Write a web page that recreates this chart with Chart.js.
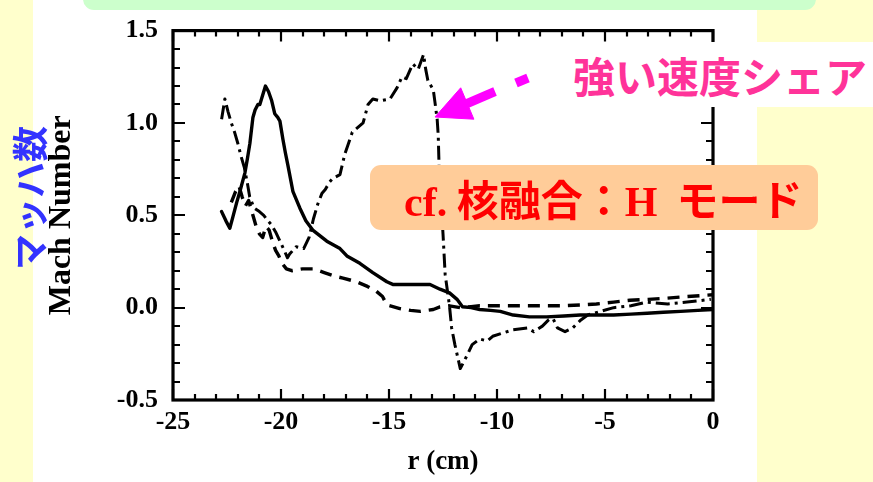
<!DOCTYPE html>
<html>
<head>
<meta charset="utf-8">
<script src="https://cdn.jsdelivr.net/npm/chart.js@4/dist/chart.umd.min.js"></script>
<style>
  html, body { margin: 0; padding: 0; width: 873px; height: 482px; overflow: hidden; background: #ffffcc; }
  #stage { position: relative; width: 873px; height: 482px; }
  .bg { position: absolute; }
  #white { left: 33px; top: 0; width: 724px; height: 482px; background: #ffffff; }
  #green { left: 83px; top: -14px; width: 733px; height: 24px; background: #ccffcc; border-radius: 11px; }
  #chart { position: absolute; left: 0; top: 0; }
  #band { position: absolute; left: 560px; top: 42px; width: 313px; height: 65px; background: #ffffff; }
  #shear { position: absolute; left: 573px; top: 54px; font: 700 42px/42px "Noto Sans CJK JP"; color: #ff3399; white-space: nowrap; }
  #note { position: absolute; left: 370px; top: 165px; width: 448px; height: 65px; background: #ffcc99; border-radius: 11px;
          font: 700 42px/65px "Noto Sans CJK JP"; color: #ff0000; white-space: pre; box-sizing: border-box; padding-left: 34px; }
  #note .ser { font-family: "Liberation Serif"; font-weight: 700; }
  #mach { position: absolute; left: -52px; top: 178px; width: 160px; height: 40px; text-align: center;
          font: 700 36px/40px "Noto Sans CJK JP"; color: #3333ff; transform: rotate(-90deg); white-space: nowrap; }
  #arrow { position: absolute; left: 0; top: 0; }
</style>
</head>
<body>
<div id="stage">
  <div class="bg" id="white"></div>
  <div class="bg" id="green"></div>
  <canvas id="chart" width="873" height="482"></canvas>
  <div id="band"></div>
  <div id="shear">強い速度シェア</div>
  <svg id="arrow" width="873" height="482">
    <g fill="#ff00ff" stroke="#ff00ff">
      <line x1="466" y1="104" x2="495" y2="91.5" stroke-width="9"/>
      <line x1="516" y1="83" x2="528" y2="78" stroke-width="9"/>
      <polygon points="435,117 460.7,87.8 473.9,119.2" stroke-width="1"/>
    </g>
  </svg>
  <div id="note"><span class="ser">cf.</span> 核融合：<span class="ser">H</span>  モード</div>
  <div id="mach">マッハ数</div>
</div>
<script>
// Radial Mach-number profiles, r in cm
const solidR = [-22.75,-22.55,-22.37,-22.23,-22.05,-21.9,-21.67,-21.55,-21.44,-21.3,-21.2,-21.07,-20.98,-20.85,-20.72,-20.58,-20.43,-20.29,-20.15,-20.05,-19.91,-19.8,-19.68,-19.45,-19.13,-18.85,-18.53,-17.88,-17.27,-16.95,-16.35,-15.75,-15.1,-14.8,-14.2,-13.1,-12.64,-12.2,-11.85,-11.6,-11.2,-10.8,-10.3,-9.85,-9.25,-8.5,-7.7,-6.9,-6.15,-5.4,-4.6,-3.8,-3.05,-2.3,-1.5,-0.7,0];
const solidM = [0.52,0.47,0.43,0.49,0.57,0.63,0.73,0.81,0.89,1.03,1.07,1.10,1.10,1.15,1.20,1.17,1.12,1.05,1.03,1.01,0.91,0.84,0.77,0.63,0.54,0.47,0.42,0.36,0.32,0.28,0.24,0.19,0.14,0.125,0.125,0.125,0.10,0.08,0.045,0.005,0.0,-0.01,-0.015,-0.02,-0.04,-0.05,-0.05,-0.045,-0.04,-0.04,-0.04,-0.035,-0.03,-0.025,-0.02,-0.015,-0.01];

const dashR = [-22.3,-22.1,-21.95,-21.8,-21.65,-21.5,-21.3,-21.15,-21.0,-20.85,-20.7,-20.55,-20.4,-20.25,-20.1,-19.95,-19.75,-19.5,-19.0,-18.5,-18.0,-17.5,-17.13,-16.5,-16.0,-15.6,-15.3,-15.1,-14.5,-14.0,-13.55,-12.95,-12.64,-12.2,-11.7,-11.2,-10.8,-9.0,-7.0,-6.0,-5.4,-4.6,-3.85,-3.0,-2.3,-1.2,0];
const dashM = [0.57,0.63,0.66,0.60,0.55,0.58,0.50,0.44,0.40,0.38,0.44,0.42,0.36,0.31,0.28,0.24,0.21,0.20,0.21,0.21,0.19,0.17,0.16,0.14,0.115,0.09,0.06,0.015,-0.005,-0.015,-0.02,-0.01,0.004,0.01,0.0,0.005,0.01,0.01,0.01,0.015,0.02,0.03,0.04,0.045,0.05,0.06,0.07];

const dashDotR = [-22.75,-22.6,-22.45,-22.3,-22.15,-22.0,-21.85,-21.7,-21.55,-21.45,-21.25,-21.0,-20.8,-20.6,-20.45,-20.25,-20.05,-19.85,-19.7,-19.6,-19.3,-18.95,-18.7,-18.5,-18.3,-18.1,-17.95,-17.75,-17.6,-17.27,-17.05,-16.9,-16.7,-16.4,-16.2,-15.97,-15.75,-15.4,-14.95,-14.63,-14.4,-14.2,-13.9,-13.65,-13.4,-13.3,-13.2,-12.95,-12.87,-12.77,-12.72,-12.68,-12.6,-12.5,-12.4,-12.2,-12.1,-11.95,-11.7,-11.35,-11.15,-10.8,-10.45,-10.2,-9.8,-9.25,-8.6,-8.3,-7.9,-7.6,-7.4,-7.2,-6.85,-6.5,-6.15,-5.8,-5.2,-4.6,-3.8,-3.05,-2.1,-1.2,-0.1];
const dashDotM = [1.02,1.13,1.06,1.0,0.95,0.89,0.82,0.76,0.67,0.60,0.54,0.52,0.50,0.47,0.45,0.41,0.36,0.31,0.27,0.29,0.33,0.32,0.38,0.48,0.56,0.62,0.64,0.68,0.70,0.72,0.83,0.88,0.95,0.98,1.0,1.10,1.13,1.12,1.13,1.19,1.25,1.24,1.32,1.29,1.37,1.29,1.23,1.18,1.11,1.02,0.93,0.76,0.6,0.40,0.18,0.01,-0.11,-0.2,-0.33,-0.25,-0.2,-0.17,-0.18,-0.155,-0.14,-0.12,-0.11,-0.13,-0.10,-0.065,-0.06,-0.11,-0.13,-0.11,-0.07,-0.04,-0.02,0.0,0.01,0.03,0.02,0.03,0.045];

// axis ranges and labelled ticks
const xRange = [-25, 0];
const yRange = [-0.5, 1.5];
const xLabelStep = 5;
const yLabelStep = 0.5;

const pts = (xs, ys) => xs.map((v, i) => ({ x: v, y: ys[i] }));

// boxed frame with inward minor/major tick marks on all four sides
const frameTicks = {
  id: 'frameTicks',
  afterDatasetsDraw(chart) {
    const { ctx, chartArea: a, scales: { x, y } } = chart;
    ctx.save();
    ctx.strokeStyle = '#000';
    ctx.lineWidth = 2.2;
    ctx.beginPath();
    for (let v = xRange[0]; v <= xRange[1]; v += 1) {
      const px = Math.round(x.getPixelForValue(v));
      const len = v % 5 === 0 ? 11 : 6;
      ctx.moveTo(px, a.bottom); ctx.lineTo(px, a.bottom - len);
      ctx.moveTo(px, a.top); ctx.lineTo(px, a.top + len);
    }
    for (let i = 0; i <= 20; i++) {
      const v = yRange[0] + i * 0.1;
      const py = Math.round(y.getPixelForValue(v));
      const len = i % 5 === 0 ? 12 : 7;
      ctx.moveTo(a.left, py); ctx.lineTo(a.left + len, py);
      ctx.moveTo(a.right, py); ctx.lineTo(a.right - len, py);
    }
    ctx.stroke();
    ctx.lineWidth = 3.2;
    ctx.strokeRect(a.left, a.top, a.right - a.left, a.bottom - a.top);
    ctx.restore();
  }
};

const serif = 'Liberation Serif';

new Chart(document.getElementById('chart'), {
  type: 'line',
  data: {
    datasets: [
      { data: pts(solidR, solidM), borderColor: '#000', borderWidth: 3.4, pointRadius: 0, tension: 0,
        borderJoinStyle: 'round', borderCapStyle: 'round' },
      { data: pts(dashR, dashM), borderColor: '#000', borderWidth: 3.4, pointRadius: 0, tension: 0,
        borderDash: [12, 8], borderJoinStyle: 'round' },
      { data: pts(dashDotR, dashDotM), borderColor: '#000', borderWidth: 3, pointRadius: 0, tension: 0,
        borderDash: [14, 5, 3, 5], borderJoinStyle: 'round' }
    ]
  },
  options: {
    responsive: false,
    animation: false,
    devicePixelRatio: 1,
    layout: { padding: { left: 0, right: 160, top: 24, bottom: 4 } },
    plugins: { legend: { display: false }, tooltip: { enabled: false } },
    scales: {
      x: {
        type: 'linear', min: xRange[0], max: xRange[1],
        grid: { display: false, drawTicks: false }, border: { display: false },
        ticks: { stepSize: xLabelStep, padding: 7, color: '#000',
                 font: { family: serif, weight: 'bold', size: 26, lineHeight: 1.2 },
                 callback: v => (v === 0 ? '0' : String(v)) },
        title: { display: true, text: 'r (cm)', color: '#000', padding: { top: 0, bottom: 0 },
                 font: { family: serif, weight: 'bold', size: 27, lineHeight: 1.2 } },
        afterFit: s => { s.height = 78; }
      },
      y: {
        type: 'linear', min: yRange[0], max: yRange[1],
        grid: { display: false, drawTicks: false }, border: { display: false },
        ticks: { stepSize: yLabelStep, padding: 15, color: '#000',
                 font: { family: serif, weight: 'bold', size: 26, lineHeight: 1.2 },
                 callback: v => v.toFixed(1) },
        title: { display: true, text: 'Mach Number', color: '#000', padding: { top: 43, bottom: 0 },
                 font: { family: serif, weight: 'bold', size: 32, lineHeight: 1.2 } },
        afterFit: s => { s.width = 173; }
      }
    }
  },
  plugins: [frameTicks]
});
</script>
</body>
</html>
